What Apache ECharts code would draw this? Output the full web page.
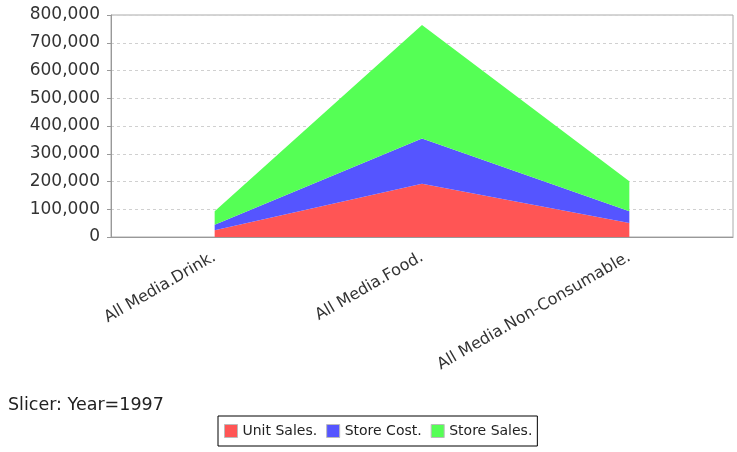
<!DOCTYPE html>
<html>
<head>
<meta charset="utf-8">
<script src="https://cdn.jsdelivr.net/npm/echarts@6/dist/echarts.min.js"></script>
<style>
  html, body { margin: 0; padding: 0; background: #fff; }
  #chart { width: 737px; height: 452px; }
</style>
</head>
<body>
<div id="chart"></div>
<script>
// Product families on the category axis
const categories = ['All Media.Drink.', 'All Media.Food.', 'All Media.Non-Consumable.'];

// Measures for 1997, stacked bottom to top
const unitSales = [24597, 191940, 50236];
const storeCost = [19477.23, 163270.72, 42879.28];
const storeSales = [48836.21, 409035.59, 107366.33];

const seriesNames = ['Unit Sales.', 'Store Cost.', 'Store Sales.'];
const seriesColors = ['#ff5555', '#5555ff', '#55ff55'];

const yTicks = [0, 100000, 200000, 300000, 400000, 500000, 600000, 700000, 800000];

const FONT = 'DejaVu Sans';

function fmt(v) {
  return String(v).replace(/\B(?=(\d{3})+(?!\d))/g, ',');
}

const chart = echarts.init(document.getElementById('chart'), null, { renderer: 'canvas' });

const values = [unitSales, storeCost, storeSales];

chart.setOption({
  animation: false,
  backgroundColor: '#ffffff',
  title: {
    text: 'Slicer: Year=1997',
    left: 8,
    top: 396,
    padding: 0,
    textStyle: { fontFamily: FONT, fontSize: 17.5, fontWeight: 'normal', color: '#222' }
  },
  legend: {
    data: seriesNames,
    left: 218,
    top: 416,
    orient: 'horizontal',
    padding: [8, 5, 8, 6],
    itemGap: 9,
    itemWidth: 13,
    itemHeight: 13,
    itemStyle: { borderColor: '#bbbbbb', borderWidth: 1 },
    icon: 'rect',
    borderColor: '#000',
    borderWidth: 1,
    borderRadius: 0,
    textStyle: { fontFamily: FONT, fontSize: 14, color: '#222' }
  },
  grid: {
    left: 111,
    right: 4,
    top: 15,
    bottom: 215,
    show: true,
    borderColor: '#aaaaaa',
    borderWidth: 1,
    backgroundColor: '#ffffff'
  },
  xAxis: {
    type: 'category',
    data: categories,
    boundaryGap: true,
    axisLine: { show: true, lineStyle: { color: '#999999', width: 1 } },
    axisTick: { show: false },
    axisLabel: {
      rotate: 30,
      margin: 19,
      interval: 0,
      fontFamily: FONT,
      fontSize: 16,
      color: '#333'
    },
    splitLine: { show: false }
  },
  yAxis: {
    type: 'value',
    min: yTicks[0],
    max: yTicks[yTicks.length - 1],
    interval: yTicks[1] - yTicks[0],
    axisLine: { show: true, lineStyle: { color: '#999999', width: 1 } },
    axisTick: { show: true, length: 4, lineStyle: { color: '#999999' } },
    axisLabel: {
      formatter: fmt,
      margin: 11,
      fontFamily: FONT,
      fontSize: 17,
      color: '#333'
    },
    splitLine: { show: true, lineStyle: { color: '#d0d0d0', type: [3, 3], width: 1 } }
  },
  series: seriesNames.map((name, i) => ({
    name: name,
    type: 'line',
    stack: 'total',
    data: values[i],
    symbol: 'none',
    showSymbol: false,
    lineStyle: { width: 0, color: seriesColors[i] },
    itemStyle: { color: seriesColors[i] },
    areaStyle: { color: seriesColors[i], opacity: 1 },
    z: 2
  }))
});
</script>
</body>
</html>
